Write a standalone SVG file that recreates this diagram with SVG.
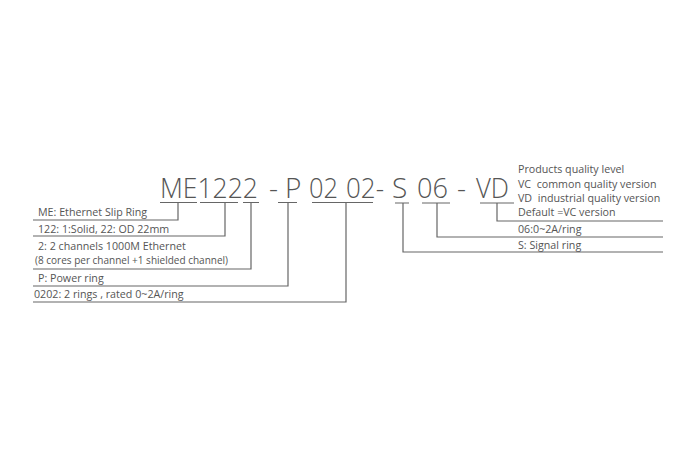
<svg xmlns="http://www.w3.org/2000/svg" width="700" height="467" viewBox="0 0 700 467">
<style>
.big{font-family:"Open Sans","Liberation Sans",sans-serif;font-weight:300;font-size:28px;fill:#555}
.lbl{font-family:"Open Sans","Liberation Sans",sans-serif;font-size:10.7px;fill:#555;white-space:pre}
.ln{stroke:#666;stroke-width:1.2;fill:none}
</style>
<rect width="700" height="467" fill="#fff"/>
<g id="code">
<text class="big" x="160" y="198" textLength="98" lengthAdjust="spacingAndGlyphs">ME1222</text>
<text class="big" x="269" y="198">-</text>
<text class="big" x="285" y="198">P</text>
<text class="big" x="309" y="198" textLength="29" lengthAdjust="spacingAndGlyphs">02</text>
<text class="big" x="346" y="198" textLength="38" lengthAdjust="spacingAndGlyphs">02-</text>
<text class="big" x="392" y="198">S</text>
<text class="big" x="417" y="198" textLength="31" lengthAdjust="spacingAndGlyphs">06</text>
<text class="big" x="457" y="198">-</text>
<text class="big" x="476" y="198" textLength="33" lengthAdjust="spacingAndGlyphs">VD</text>
</g>
<g id="connectors">
<path class="ln" d="M160 202.5H197M178 202.5V220H33"/>
<path class="ln" d="M200 202.5H238M225 202.5V236H33"/>
<path class="ln" d="M243 202.5H259M251 202.5V269H33"/>
<path class="ln" d="M278 202.5H297M288 202.5V286H33"/>
<path class="ln" d="M312 202.5H373M346 202.5V302H33"/>
<path class="ln" d="M395 203H409M403 203V252H663"/>
<path class="ln" d="M422 203H450M437 203V237H663"/>
<path class="ln" d="M480 203H514M497 203V221H663"/>
</g>
<g id="left-labels">
<text class="lbl" x="38" y="216">ME: Ethernet Slip Ring</text>
<text class="lbl" x="38" y="233">122: 1:Solid, 22: OD 22mm</text>
<text class="lbl" x="38" y="250">2: 2 channels 1000M Ethernet</text>
<text class="lbl" x="35" y="264" textLength="193" lengthAdjust="spacingAndGlyphs">(8 cores per channel +1 shielded channel)</text>
<text class="lbl" x="38" y="282">P: Power ring</text>
<text class="lbl" x="34" y="298">0202: 2 rings , rated 0~2A/ring</text>
</g>
<g id="right-labels">
<text class="lbl" x="518" y="173">Products quality level</text>
<text class="lbl" x="518" y="188" xml:space="preserve">VC  common quality version</text>
<text class="lbl" x="518" y="202" xml:space="preserve">VD  industrial quality version</text>
<text class="lbl" x="518" y="216">Default =VC version</text>
<text class="lbl" x="518" y="233">06:0~2A/ring</text>
<text class="lbl" x="518" y="249">S: Signal ring</text>
</g>
</svg>
